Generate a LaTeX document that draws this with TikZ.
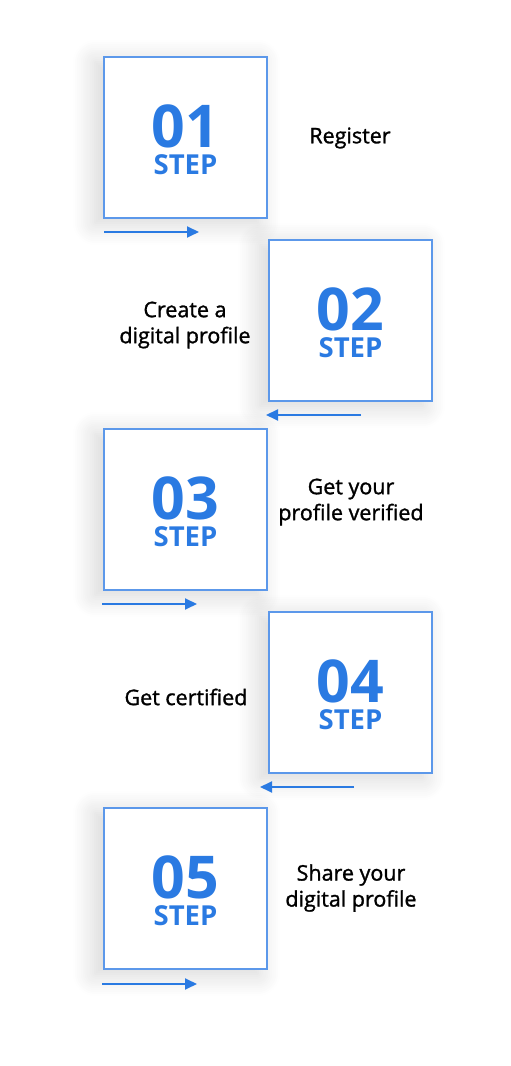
\documentclass[tikz,border=0pt]{standalone}
\usepackage{fontspec}
\setmainfont{Open Sans}
\newfontface\labelfont{Open Sans}[FakeBold=1.3]
\usetikzlibrary{arrows.meta,shadows.blur}

\definecolor{stepblue}{HTML}{2A7AE2}
\definecolor{edgeblue}{HTML}{5C98EA}

\tikzset{
  stepbox/.style={draw=edgeblue, line width=1.2pt, fill=white, minimum width=163pt, minimum height=161pt,
    blur shadow={shadow xshift=-9pt, shadow yshift=-5pt, shadow blur radius=22pt, shadow blur steps=12, shadow opacity=17}},
  stepmark/.style={text=stepblue, inner sep=0pt, align=center, font=\bfseries},
  steplabel/.style={align=center, font=\labelfont\fontsize{21.5}{26}\selectfont},
  steparrow/.style={-{Triangle[length=12pt,width=11pt]}, draw=stepblue, line width=1.9pt}
}
\newcommand{\stepmark}[1]{{\fontsize{59}{59}\selectfont #1}\\[6pt]{\fontsize{27.5}{27.5}\selectfont STEP}}

\begin{document}
\begin{tikzpicture}[x=1pt,y=1pt]
\useasboundingbox (0,0) rectangle (511,1066);

% boxes
\node [stepbox] (box1) at (185.5,928.5) {};
\node [stepbox] (box2) at (350.5,745.5) {};
\node [stepbox] (box3) at (185.5,556.5) {};
\node [stepbox] (box4) at (350.5,373.5) {};
\node [stepbox] (box5) at (185.5,177.5) {};

% numbers
\node [stepmark] (num1) at ([yshift=-2pt]box1.center) {\stepmark{01}};
\node [stepmark] (num2) at ([yshift=-2pt]box2.center) {\stepmark{02}};
\node [stepmark] (num3) at ([yshift=-2pt]box3.center) {\stepmark{03}};
\node [stepmark] (num4) at ([yshift=-2pt]box4.center) {\stepmark{04}};
\node [stepmark] (num5) at ([yshift=-2pt]box5.center) {\stepmark{05}};

% labels
\node [steplabel] (lab1) at (350,928) {Register};
\node [steplabel] (lab2) at (185,741) {Create a\\digital profile};
\node [steplabel] (lab3) at (351,564) {Get your\\profile verified};
\node [steplabel] (lab4) at (186,369) {Get certified};
\node [steplabel] (lab5) at (351,178) {Share your\\digital profile};

% arrows
\coordinate (a1s) at (104,834); \coordinate (a1e) at (199,834);
\coordinate (a2s) at (361,651); \coordinate (a2e) at (266,651);
\coordinate (a3s) at (102,462); \coordinate (a3e) at (197,462);
\coordinate (a4s) at (354,279); \coordinate (a4e) at (260,279);
\coordinate (a5s) at (102,82);  \coordinate (a5e) at (197,82);

\draw [steparrow] (a1s) -- (a1e);
\draw [steparrow] (a2s) -- (a2e);
\draw [steparrow] (a3s) -- (a3e);
\draw [steparrow] (a4s) -- (a4e);
\draw [steparrow] (a5s) -- (a5e);
\end{tikzpicture}
\end{document}
